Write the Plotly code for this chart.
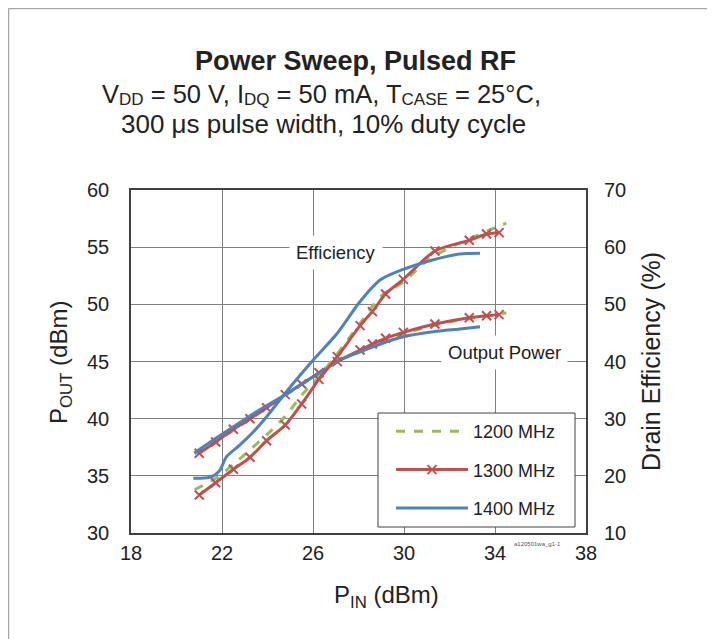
import plotly.graph_objects as go

# ---------------- data ----------------
pin_1300 = [21.0, 21.72, 22.5, 23.23, 23.96, 24.78, 25.5, 26.26, 27.07, 28.07, 28.61, 29.19, 29.97, 31.36, 32.87, 33.63, 34.18]
pout_1300 = [36.97, 37.96, 39.07, 40.0, 40.96, 42.10, 43.03, 44.02, 44.99, 46.0, 46.53, 47.03, 47.55, 48.28, 48.83, 49.0, 49.1]
eff_1300 = [16.65, 18.8, 21.14, 23.24, 26.15, 28.9, 32.57, 36.88, 40.85, 46.27, 48.72, 51.81, 54.37, 59.33, 61.2, 62.3, 62.54]

pin_1200 = [20.8, 21.7, 22.5, 23.3, 24.0, 24.8, 25.5, 26.3, 27.0, 28.0, 29.0, 30.0, 31.0, 32.0, 33.0, 34.0, 34.5]
pout_1200 = [36.95, 37.9, 39.0, 40.05, 41.0, 42.05, 43.0, 44.0, 44.9, 45.9, 46.8, 47.45, 48.0, 48.45, 48.8, 49.1, 49.27]
eff_1200 = [17.6, 19.5, 22.0, 24.8, 27.3, 30.5, 34.1, 37.5, 41.0, 46.3, 51.5, 54.0, 57.6, 59.9, 61.7, 63.4, 64.2]

pin_1400_p = [20.78, 22.06, 23.52, 24.99, 26.01, 27.04, 28.07, 29.24, 29.97, 31.29, 32.46, 33.34]
pout_1400 = [37.0, 38.72, 40.61, 42.36, 43.67, 45.0, 45.85, 46.73, 47.17, 47.61, 47.85, 48.04]
pin_1400_e = [20.74, 21.2, 21.47, 21.7, 21.91, 22.2, 22.79, 23.38, 23.96, 24.55, 25.2, 26.01, 27.04, 28.07, 28.95, 29.97, 30.99, 31.8, 32.46, 33.34]
eff_1400 = [19.57, 19.6, 19.75, 20.2, 21.0, 23.35, 25.4, 27.7, 30.35, 33.3, 36.5, 40.26, 44.8, 50.5, 54.26, 56.13, 57.46, 58.3, 58.8, 58.92]

x_ticks = [18, 22, 26, 30, 34, 38]
y_left_ticks = [30, 35, 40, 45, 50, 55, 60]
y_right_ticks = [10, 20, 30, 40, 50, 60, 70]

GREEN = "#9bbb59"
RED = "#c0504d"
BLUE = "#4f81bd"
FONT = "Liberation Sans, Arial, sans-serif"
TXT = "#222222"

# page body has an 8px margin; figure sized to fit the window
W, H = 707, 631
OFF = 8
PL, PR, PT, PB = 131, 586, 190, 533   # plot area in window pixels

fig = go.Figure()

spl = dict(shape="spline", smoothing=0.8)
mk = dict(symbol="x-thin", size=9, line=dict(color=RED, width=2), color=RED)

fig.add_trace(go.Scatter(x=pin_1200, y=pout_1200, mode="lines", name="1200 MHz",
                         line=dict(color=GREEN, width=3, dash="dash", **spl),
                         legendgroup="g1", showlegend=True))
fig.add_trace(go.Scatter(x=pin_1200, y=eff_1200, mode="lines", name="1200 MHz", yaxis="y2",
                         line=dict(color=GREEN, width=3, dash="dash", **spl),
                         legendgroup="g1", showlegend=False))
fig.add_trace(go.Scatter(x=pin_1300, y=pout_1300, mode="lines+markers", name="1300 MHz",
                         line=dict(color=RED, width=3, **spl), marker=mk,
                         legendgroup="g2", showlegend=True))
fig.add_trace(go.Scatter(x=pin_1300, y=eff_1300, mode="lines+markers", name="1300 MHz", yaxis="y2",
                         line=dict(color=RED, width=3, **spl), marker=mk,
                         legendgroup="g2", showlegend=False))
fig.add_trace(go.Scatter(x=pin_1400_p, y=pout_1400, mode="lines", name="1400 MHz",
                         line=dict(color=BLUE, width=3, **spl),
                         legendgroup="g3", showlegend=True))
fig.add_trace(go.Scatter(x=pin_1400_e, y=eff_1400, mode="lines", name="1400 MHz", yaxis="y2",
                         line=dict(color=BLUE, width=3, **spl),
                         legendgroup="g3", showlegend=False))

def px_x(X):
    return (X - PL) / float(PR - PL)

def px_y(Y):
    return (PB - Y) / float(PB - PT)

axis_font = dict(family=FONT, size=20, color=TXT)
grid_col = "#7f7f7f"

fig.update_layout(
    width=W, height=H,
    margin=dict(l=PL - OFF, r=W - (PR - OFF), t=PT - OFF, b=H - (PB - OFF), autoexpand=False),
    paper_bgcolor="white", plot_bgcolor="white",
    font=dict(family=FONT, color=TXT),
    showlegend=True,
    legend=dict(x=px_x(391), y=px_y(413), xanchor="left", yanchor="top",
                bgcolor="rgba(0,0,0,0)", borderwidth=0,
                font=dict(family=FONT, size=18, color=TXT),
                itemwidth=72, tracegroupgap=12, traceorder="grouped"),
    xaxis=dict(range=[18, 38], tickvals=x_ticks, ticktext=[str(v) for v in x_ticks],
               showgrid=True, gridcolor=grid_col, gridwidth=1,
               zeroline=False, showline=True, linecolor="#404040", linewidth=1.5, mirror=True,
               ticks="outside", ticklen=1, tickcolor="rgba(0,0,0,0)", tickfont=axis_font),
    yaxis=dict(range=[30, 60], tickvals=y_left_ticks, ticktext=[str(v) for v in y_left_ticks],
               showgrid=True, gridcolor=grid_col, gridwidth=1,
               zeroline=False, showline=True, linecolor="#404040", linewidth=1.5, mirror=True,
               ticks="outside", ticklen=16, tickcolor="rgba(0,0,0,0)", tickfont=axis_font),
    yaxis2=dict(range=[10, 70], tickvals=y_right_ticks, ticktext=[str(v) for v in y_right_ticks],
                overlaying="y", side="right", showgrid=False, zeroline=False,
                ticks="outside", ticklen=13, tickcolor="rgba(0,0,0,0)", tickfont=axis_font),
)

# legend box (drawn as a shape so it can be sized like the original)
fig.add_shape(type="rect", xref="paper", yref="paper", layer="above",
              x0=px_x(378), x1=px_x(575), y0=px_y(527), y1=px_y(413),
              line=dict(color="#404040", width=1), fillcolor="white")

# outer frame (top and left edges)
fig.add_shape(type="line", xref="paper", yref="paper", x0=px_x(8.5), x1=px_x(720), y0=px_y(8.5), y1=px_y(8.5),
              line=dict(color="#a6a6a6", width=1.5))
fig.add_shape(type="line", xref="paper", yref="paper", x0=px_x(8.5), x1=px_x(8.5), y0=px_y(640), y1=px_y(8.5),
              line=dict(color="#a6a6a6", width=1.5))

def sub(s, size=17):
    return '<span style="font-size:%dpx;baseline-shift:-2px">%s</span>' % (size, s)

line1 = "V" + sub("DD") + " = 50 V, I" + sub("DQ") + " = 50 mA, T" + sub("CASE") + " = 25°C,"

anns = [
    dict(text="<b>Power Sweep, Pulsed RF</b>", X=355, Y=61, size=27, angle=0),
    dict(text=line1, X=321, Y=94, size=25.5, angle=0),
    dict(text="300 μs pulse width, 10% duty cycle", X=323, Y=124, size=26, angle=0),
    dict(text="P<sub>IN</sub> (dBm)", X=386, Y=596, size=24, angle=0),
    dict(text="P<sub>OUT</sub> (dBm)", X=60, Y=363, size=24, angle=-90),
    dict(text="Drain Efficiency (%)", X=651, Y=362, size=25, angle=-90),
]
for a in anns:
    fig.add_annotation(text=a["text"], x=px_x(a["X"]), y=px_y(a["Y"]), xref="paper", yref="paper",
                       xanchor="center", yanchor="middle", showarrow=False, textangle=a["angle"],
                       font=dict(family=FONT, size=a["size"], color=TXT))

fig.add_annotation(text="Efficiency", x=px_x(336), y=px_y(252), xref="paper", yref="paper",
                   xanchor="center", yanchor="middle", showarrow=False, bgcolor="white",
                   borderpad=6, font=dict(family=FONT, size=18.5, color=TXT))
fig.add_annotation(text="Output Power", x=px_x(504), y=px_y(352), xref="paper", yref="paper",
                   xanchor="center", yanchor="middle", showarrow=False, bgcolor="white",
                   borderpad=6, font=dict(family=FONT, size=18.5, color=TXT))
fig.add_annotation(text="a120501wa_g1-1", x=px_x(537), y=px_y(544), xref="paper", yref="paper",
                   xanchor="center", yanchor="middle", showarrow=False,
                   font=dict(family=FONT, size=6, color="#555555"))

fig.write_html("out.html")
